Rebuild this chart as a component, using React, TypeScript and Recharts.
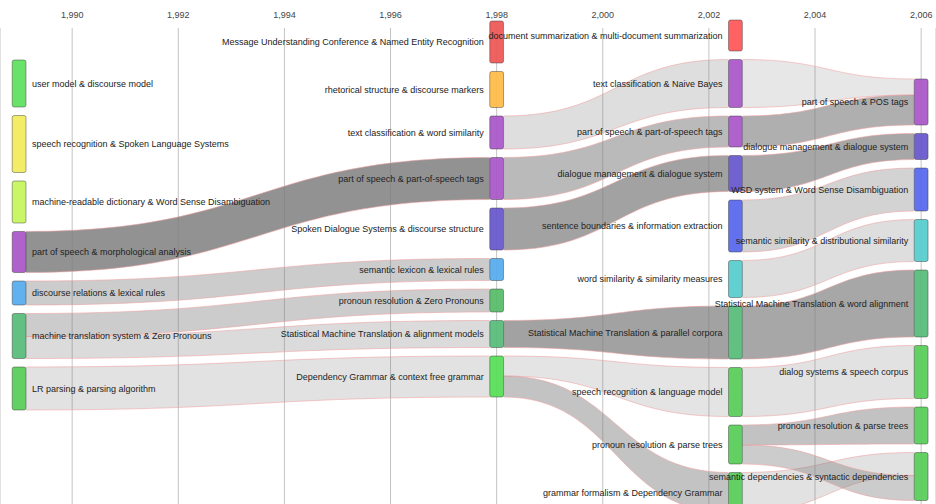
import React from 'react'
import {
  ComposedChart,
  Area,
  XAxis,
  YAxis,
  CartesianGrid,
  ReferenceArea,
} from 'recharts'

// years of the four topic columns
const COLUMN_YEARS = [1989, 1998, 2002.5, 2006]
const TICK_YEARS = [1990, 1992, 1994, 1996, 1998, 2000, 2002, 2004, 2006]

// topics per column, value = topic size
const COL0 = [
  { name: 'user model & discourse model', value: 47 },
  { name: 'speech recognition & Spoken Language Systems', value: 57 },
  { name: 'machine-readable dictionary & Word Sense Disambiguation', value: 42 },
  { name: 'part of speech & morphological analysis', value: 41 },
  { name: 'discourse relations & lexical rules', value: 24 },
  { name: 'machine translation system & Zero Pronouns', value: 45 },
  { name: 'LR parsing & parsing algorithm', value: 43 },
]

const COL1 = [
  { name: 'Message Understanding Conference & Named Entity Recognition', value: 42 },
  { name: 'rhetorical structure & discourse markers', value: 36 },
  { name: 'text classification & word similarity', value: 33 },
  { name: 'part of speech & part-of-speech tags', value: 42 },
  { name: 'Spoken Dialogue Systems & discourse structure', value: 42 },
  { name: 'semantic lexicon & lexical rules', value: 22 },
  { name: 'pronoun resolution & Zero Pronouns', value: 23 },
  { name: 'Statistical Machine Translation & alignment models', value: 27 },
  { name: 'Dependency Grammar & context free grammar', value: 41 },
]

const COL2 = [
  { name: 'document summarization & multi-document summarization', value: 31 },
  { name: 'text classification & Naive Bayes', value: 48 },
  { name: 'part of speech & part-of-speech tags', value: 31 },
  { name: 'dialogue management & dialogue system', value: 36 },
  { name: 'sentence boundaries & information extraction', value: 52 },
  { name: 'word similarity & similarity measures', value: 37 },
  { name: 'Statistical Machine Translation & parallel corpora', value: 53 },
  { name: 'speech recognition & language model', value: 49 },
  { name: 'pronoun resolution & parse trees', value: 39 },
  { name: 'grammar formalism & Dependency Grammar', value: 40 },
]

const COL3 = [
  { name: 'part of speech & POS tags', value: 46 },
  { name: 'dialogue management & dialogue system', value: 26 },
  { name: 'WSD system & Word Sense Disambiguation', value: 43 },
  { name: 'semantic similarity & distributional similarity', value: 42 },
  { name: 'Statistical Machine Translation & word alignment', value: 67 },
  { name: 'dialog systems & speech corpus', value: 53 },
  { name: 'pronoun resolution & parse trees', value: 37 },
  { name: 'semantic dependencies & syntactic dependencies', value: 48 },
]

// c = source column, s/t = node index, out/inn = flow at each end, w = similarity
const LINKS = [
  { c: 0, s: 3, t: 3, out: 41, inn: 42, w: 0.82 },
  { c: 0, s: 4, t: 5, out: 24, inn: 22, w: 0.38 },
  { c: 0, s: 5, t: 6, out: 23, inn: 23, w: 0.38 },
  { c: 0, s: 5, t: 7, out: 22, inn: 27, w: 0.27 },
  { c: 0, s: 6, t: 8, out: 43, inn: 41, w: 0.22 },
  { c: 1, s: 2, t: 1, out: 33, inn: 48, w: 0.25 },
  { c: 1, s: 3, t: 2, out: 42, inn: 31, w: 0.52 },
  { c: 1, s: 4, t: 3, out: 42, inn: 36, w: 0.7 },
  { c: 1, s: 7, t: 6, out: 27, inn: 53, w: 0.7 },
  { c: 1, s: 8, t: 7, out: 20, inn: 49, w: 0.2 },
  { c: 1, s: 8, t: 9, out: 21, inn: 40, w: 0.45 },
  { c: 2, s: 1, t: 0, out: 48, inn: 16, w: 0.18 },
  { c: 2, s: 2, t: 0, out: 31, inn: 30, w: 0.6 },
  { c: 2, s: 3, t: 1, out: 36, inn: 26, w: 0.66 },
  { c: 2, s: 4, t: 2, out: 52, inn: 43, w: 0.33 },
  { c: 2, s: 5, t: 3, out: 37, inn: 42, w: 0.25 },
  { c: 2, s: 6, t: 4, out: 53, inn: 67, w: 0.66 },
  { c: 2, s: 7, t: 5, out: 49, inn: 53, w: 0.22 },
  { c: 2, s: 8, t: 6, out: 20, inn: 37, w: 0.46 },
  { c: 2, s: 9, t: 7, out: 40, inn: 23, w: 0.22 },
  { c: 2, s: 8, t: 7, out: 19, inn: 25, w: 0.38 },
]

const COLORS = [
  ['#5ce05c', '#f2ea5a', '#c4f55a', '#a855c8', '#55aaee', '#55bb77', '#55cc55'],
  ['#ee5555', '#ffbb44', '#a855c8', '#a855c8', '#6655cc', '#55aaee', '#55bb66', '#55bb77', '#55dd55'],
  ['#ff5555', '#a855c8', '#a855c8', '#6655cc', '#5566ee', '#55cccc', '#55bb77', '#55cc55', '#55cc55', '#55cc55'],
  ['#a855c8', '#6655cc', '#5566ee', '#55cccc', '#55bb77', '#55cc55', '#55cc55', '#55cc55'],
]

const COLUMNS = [COL0, COL1, COL2, COL3]
const COL_START = [60, 21, 20, 79]
const PAD = 8.5
const HALF = 0.13
const X_DOMAIN = [1988.64, 2006.28]
const Y_DOMAIN = [28, 504]

// stack nodes in each column
const nodes = COLUMNS.map((col, c) => {
  let y = COL_START[c]
  return col.map((n, i) => {
    const r = { ...n, c, i, y0: y, y1: y + n.value, outCur: y, inCur: y }
    y += n.value + PAD
    return r
  })
})

const links = LINKS.map((l) => {
  const src = nodes[l.c][l.s]
  const tgt = nodes[l.c + 1][l.t]
  const a = src.outCur
  src.outCur += l.out
  const b = tgt.inCur
  tgt.inCur += l.inn
  return {
    w: l.w,
    data: [
      { yr: COLUMN_YEARS[l.c] + HALF, band: [a, a + l.out] },
      { yr: COLUMN_YEARS[l.c + 1] - HALF, band: [b, b + l.inn] },
    ],
  }
})

export default function App() {
  return (
    <div
      style={{
        position: 'absolute',
        left: 0,
        top: 0,
        background: '#fff',
        fontFamily: '"Liberation Sans", Arial, sans-serif',
      }}
    >
      <ComposedChart width={936} height={504} margin={{ top: 0, right: 0, bottom: 0, left: 0 }}>
        <CartesianGrid vertical horizontal={false} stroke="#c4c4c4" />
        <XAxis
          dataKey="yr"
          type="number"
          orientation="top"
          domain={X_DOMAIN}
          allowDataOverflow
          ticks={TICK_YEARS}
          tickFormatter={(v: number) => v.toLocaleString('en-US')}
          axisLine={false}
          tickLine={false}
          tickMargin={4}
          height={28}
          tick={{ fontSize: 9, fill: '#444' }}
        />
        <YAxis hide type="number" domain={Y_DOMAIN} reversed allowDataOverflow />
        {links.map((l, k) => (
          <Area
            key={k}
            data={l.data}
            dataKey="band"
            type="bumpX"
            fill="#7a7a7a"
            fillOpacity={l.w}
            stroke="#eea0a0"
            strokeOpacity={0.7}
            strokeWidth={0.8}
            dot={false}
            activeDot={false}
            isAnimationActive={false}
          />
        ))}
        {nodes.flat().map((n) => (
          <ReferenceArea
            key={`${n.c}-${n.i}`}
            x1={COLUMN_YEARS[n.c] - HALF}
            x2={COLUMN_YEARS[n.c] + HALF}
            y1={n.y0}
            y2={n.y1}
            ifOverflow="visible"
            fill={COLORS[n.c][n.i]}
            fillOpacity={0.92}
            stroke="#333"
            strokeOpacity={0.55}
            strokeWidth={0.8}
            radius={2}
            label={{
              value: n.name,
              position: n.c === 0 ? 'right' : 'left',
              offset: 6,
              fill: '#222',
              fontSize: 9,
            }}
          />
        ))}
      </ComposedChart>
    </div>
  )
}
